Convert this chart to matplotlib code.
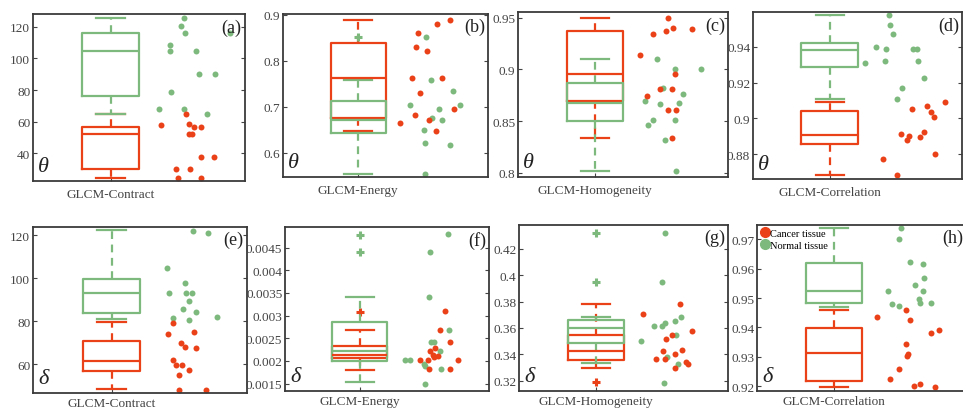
import matplotlib
matplotlib.use("Agg")
import matplotlib.pyplot as plt
from matplotlib.lines import Line2D

plt.rcParams['font.family'] = ['Liberation Serif', 'DejaVu Serif']

RED = '#EB4119'
GREEN = '#7DB97D'

feature_names = ['GLCM-Contract', 'GLCM-Energy', 'GLCM-Homogeneity', 'GLCM-Correlation'] * 2
panel_letters = ['(a)', '(b)', '(c)', '(d)', '(e)', '(f)', '(g)', '(h)']
angle_symbols = ['θ'] * 4 + ['δ'] * 4

# box statistics, one value per panel a..h
red_q1 = [30.0, 0.675, 0.869, 0.886, 57.1, 0.00206, 0.3358, 0.9218]
red_med = [52.2, 0.7626, 0.8958, 0.891, 61.6, 0.00214, 0.3427, 0.9313]
red_q3 = [56.9, 0.8385, 0.9371, 0.9041, 70.8, 0.00232, 0.3547, 0.9399]
red_lo = [24.6, 0.6462, 0.8335, 0.8682, 48.4, 0.001807, 0.3295, 0.9198]
red_hi = [65.1, 0.889, 0.950, 0.9092, 79.9, 0.002691, 0.3784, 0.946]
red_out = [[], [], [], [], [], [0.003087], [0.3192], []]

green_q1 = [76.3, 0.6426, 0.8497, 0.9288, 83.8, 0.00199, 0.349, 0.9482]
green_med = [104.4, 0.671, 0.8677, 0.9383, 93.0, 0.002217, 0.3603, 0.9523]
green_q3 = [116.4, 0.7113, 0.8868, 0.9419, 99.6, 0.002867, 0.3658, 0.9618]
green_lo = [65.2, 0.5538, 0.8013, 0.9107, 81.1, 0.001537, 0.3333, 0.9471]
green_hi = [125.3, 0.759, 0.9103, 0.9579, 122.3, 0.0034, 0.3683, 0.9737]
green_out = [[], [0.8508], [], [], [], [0.004777, 0.004403], [0.4321, 0.3944], []]

# individual samples (y value, horizontal jitter)
red_y_a = [65.2, 58.2, 58.8, 56.7, 56.7, 52.5, 52.5, 37.5, 37.5, 30, 30, 24.6, 24.6]
red_x_a = [0.724, 0.602, 0.737, 0.761, 0.795, 0.737, 0.748, 0.795, 0.855, 0.674, 0.743, 0.685, 0.792]
green_y_a = [125.3, 120.6, 116.4, 116.4, 108.6, 104.4, 104.4, 90.3, 90.3, 79.1, 68.3, 68.3, 65.2]
green_x_a = [0.713, 0.698, 0.717, 0.929, 0.646, 0.646, 0.769, 0.784, 0.858, 0.650, 0.595, 0.713, 0.819]

red_y_b = [0.889, 0.880, 0.860, 0.831, 0.821, 0.763, 0.763, 0.730, 0.694, 0.682, 0.670, 0.665, 0.646]
red_x_b = [0.816, 0.751, 0.659, 0.647, 0.704, 0.631, 0.777, 0.667, 0.833, 0.642, 0.712, 0.569, 0.748]
green_y_b = [0.851, 0.759, 0.734, 0.704, 0.704, 0.695, 0.675, 0.670, 0.650, 0.622, 0.617, 0.554]
green_x_b = [0.699, 0.724, 0.829, 0.618, 0.865, 0.759, 0.728, 0.777, 0.688, 0.691, 0.813, 0.691]

red_y_c = [0.950, 0.937, 0.940, 0.939, 0.9345, 0.914, 0.896, 0.874, 0.881, 0.881, 0.861, 0.861, 0.8335]
red_x_c = [0.713, 0.705, 0.737, 0.830, 0.642, 0.582, 0.748, 0.613, 0.677, 0.732, 0.716, 0.753, 0.732]
green_y_c = [0.910, 0.9006, 0.9006, 0.882, 0.8765, 0.869, 0.8668, 0.8677, 0.8513, 0.8458, 0.8513, 0.8313, 0.8013]
green_x_c = [0.661, 0.748, 0.870, 0.693, 0.784, 0.605, 0.677, 0.767, 0.645, 0.618, 0.748, 0.700, 0.753]

red_y_d = [0.9093, 0.9069, 0.9054, 0.9037, 0.9009, 0.8923, 0.8914, 0.8901, 0.8882, 0.8895, 0.8802, 0.8774, 0.8682]
red_x_d = [0.919, 0.831, 0.759, 0.850, 0.866, 0.818, 0.706, 0.748, 0.738, 0.799, 0.871, 0.620, 0.687]
green_y_d = [0.9579, 0.9521, 0.9471, 0.940, 0.9387, 0.9387, 0.9387, 0.9321, 0.9318, 0.9308, 0.9228, 0.9168, 0.9107]
green_x_d = [0.652, 0.658, 0.668, 0.591, 0.636, 0.764, 0.783, 0.634, 0.788, 0.538, 0.819, 0.711, 0.690]

red_y_e = [79.3, 74.2, 75.0, 69.9, 68.0, 67.6, 62.2, 59.5, 59.8, 57.5, 54.9, 48.3, 48.3]
red_x_e = [0.653, 0.630, 0.753, 0.692, 0.711, 0.7625, 0.656, 0.669, 0.698, 0.727, 0.683, 0.683, 0.808]
green_y_e = [122.0, 121.2, 104.6, 97.8, 93.0, 93.0, 93.3, 89.3, 85.8, 84.5, 81.4, 80.8, 81.9]
green_x_e = [0.747, 0.820, 0.625, 0.708, 0.6375, 0.714, 0.745, 0.730, 0.703, 0.761, 0.656, 0.731, 0.859]

red_y_f = [0.003095, 0.002693, 0.002415, 0.00229, 0.00221, 0.002122, 0.0021, 0.002012, 0.002012, 0.002012, 0.001814, 0.001814, 0.002085]
red_x_f = [0.784, 0.759, 0.811, 0.737, 0.711, 0.727, 0.751, 0.662, 0.699, 0.849, 0.707, 0.811, 0.732]
green_y_f = [0.004793, 0.004405, 0.0034, 0.002415, 0.002415, 0.002693, 0.00221, 0.002012, 0.002012, 0.001939, 0.001888, 0.001814, 0.0015]
green_x_f = [0.797, 0.711, 0.707, 0.715, 0.732, 0.802, 0.759, 0.590, 0.613, 0.680, 0.686, 0.764, 0.688]

red_y_g = [0.3709, 0.3784, 0.3578, 0.3545, 0.352, 0.3427, 0.3432, 0.3402, 0.3364, 0.3364, 0.3296, 0.3346, 0.3331]
red_x_g = [0.593, 0.769, 0.829, 0.734, 0.705, 0.689, 0.781, 0.745, 0.657, 0.697, 0.748, 0.801, 0.809]
green_y_g = [0.4321, 0.3951, 0.3616, 0.3616, 0.3641, 0.3653, 0.3684, 0.3502, 0.3545, 0.3381, 0.3331, 0.3187]
green_x_g = [0.700, 0.686, 0.646, 0.686, 0.700, 0.745, 0.777, 0.582, 0.753, 0.710, 0.761, 0.694]

red_y_h = [0.9437, 0.9461, 0.9426, 0.9392, 0.9382, 0.9344, 0.9311, 0.9303, 0.926, 0.9224, 0.9201, 0.9206, 0.9198]
red_x_h = [0.572, 0.712, 0.727, 0.867, 0.827, 0.708, 0.720, 0.716, 0.679, 0.633, 0.748, 0.775, 0.848]
green_y_h = [0.9737, 0.970, 0.9624, 0.9615, 0.9567, 0.9544, 0.9525, 0.9523, 0.9497, 0.9482, 0.948, 0.9472, 0.9483]
green_x_h = [0.684, 0.679, 0.728, 0.791, 0.796, 0.751, 0.791, 0.625, 0.772, 0.775, 0.644, 0.676, 0.831]

# axis ranges and tick labels
y_limits = [(22.5, 128), (0.547, 0.902), (0.7958, 0.9555), (0.8662, 0.9593),
            (46.7, 123.9), (0.001339, 0.004954), (0.3124, 0.4379), (0.9184, 0.9749)]
y_tick_labels = [
    ['40', '60', '80', '100', '120'],
    ['0.6', '0.7', '0.8', '0.9'],
    ['0.8', '0.85', '0.9', '0.95'],
    ['0.88', '0.9', '0.92', '0.94'],
    ['60', '80', '100', '120'],
    ['0.0015', '0.002', '0.0025', '0.003', '0.0035', '0.004', '0.0045'],
    ['0.32', '0.34', '0.36', '0.38', '0.4', '0.42'],
    ['0.92', '0.93', '0.94', '0.95', '0.96', '0.97'],
]

red_ys = [red_y_a, red_y_b, red_y_c, red_y_d, red_y_e, red_y_f, red_y_g, red_y_h]
red_xs = [red_x_a, red_x_b, red_x_c, red_x_d, red_x_e, red_x_f, red_x_g, red_x_h]
green_ys = [green_y_a, green_y_b, green_y_c, green_y_d, green_y_e, green_y_f, green_y_g, green_y_h]
green_xs = [green_x_a, green_x_b, green_x_c, green_x_d, green_x_e, green_x_f, green_x_g, green_x_h]

# panel rectangles in figure fractions (left, bottom, width, height)
positions = [
    [0.0343, 0.556, 0.220, 0.407], [0.2939, 0.566, 0.2129, 0.3976],
    [0.5379, 0.566, 0.218, 0.402], [0.7819, 0.561, 0.217, 0.407],
    [0.0343, 0.039, 0.2222, 0.405], [0.296, 0.044, 0.2118, 0.400],
    [0.539, 0.044, 0.217, 0.405], [0.786, 0.044, 0.218, 0.405],
]

BOX_X = 0.367
BOX_W = 0.27


def draw_box(ax, color, q1, med, q3, lo, hi, out):
    stats = [dict(med=med, q1=q1, q3=q3, whislo=lo, whishi=hi, fliers=out)]
    ax.bxp(stats, positions=[BOX_X], widths=BOX_W, capwidths=BOX_W / 2,
           showfliers=True, manage_ticks=False,
           boxprops=dict(color=color, linewidth=1.6),
           medianprops=dict(color=color, linewidth=1.6),
           whiskerprops=dict(color=color, linewidth=1.6, linestyle=(0, (3.5, 2.5))),
           capprops=dict(color=color, linewidth=1.6),
           flierprops=dict(marker='+', markeredgecolor=color, markersize=6,
                           markeredgewidth=2.2, linestyle='none'))


fig = plt.figure(figsize=(9.63, 4.10), dpi=100)

for i in range(8):
    ax = fig.add_axes(positions[i])
    draw_box(ax, RED, red_q1[i], red_med[i], red_q3[i], red_lo[i], red_hi[i], red_out[i])
    draw_box(ax, GREEN, green_q1[i], green_med[i], green_q3[i], green_lo[i], green_hi[i], green_out[i])

    ax.plot(green_xs[i], green_ys[i], 'o', color=GREEN, markersize=4.3, markeredgewidth=0, clip_on=False)
    ax.plot(red_xs[i], red_ys[i], 'o', color=RED, markersize=4.3, markeredgewidth=0, clip_on=False)

    ax.set_xlim(0, 1)
    ax.set_ylim(*y_limits[i])
    ticks = [float(t) for t in y_tick_labels[i]]
    ax.set_yticks(ticks)
    ax.set_yticklabels(y_tick_labels[i])
    ax.set_xticks([BOX_X])
    ax.set_xticklabels([feature_names[i]])
    ax.tick_params(axis='y', direction='in', left=True, right=True, length=3,
                   labelsize=9.5, labelcolor='#444444', color='#444444', pad=2)
    ax.tick_params(axis='x', direction='in', length=3, labelsize=9.5,
                   labelcolor='#444444', color='#444444', pad=5 if i < 4 else 3)
    for s in ax.spines.values():
        s.set_color('#3a3a3a')
        s.set_linewidth(1.3)

    ax.text(0.985, 0.975, panel_letters[i], transform=ax.transAxes, ha='right', va='top',
            fontsize=13, color='#222222')
    ax.text(0.025, 0.03, angle_symbols[i], transform=ax.transAxes, ha='left', va='bottom',
            fontsize=16, style='italic', color='#222222')

    if i == 7:
        handles = [Line2D([], [], marker='o', color=RED, linestyle='none', markersize=7),
                   Line2D([], [], marker='o', color=GREEN, linestyle='none', markersize=7)]
        ax.legend(handles, ['Cancer tissue', 'Normal tissue'], loc='upper left',
                  frameon=False, fontsize=7.5, handlelength=0.8, handletextpad=0.1,
                  borderaxespad=0.15, borderpad=0.2, labelspacing=0.25)

fig.savefig('out.png', dpi=100)
